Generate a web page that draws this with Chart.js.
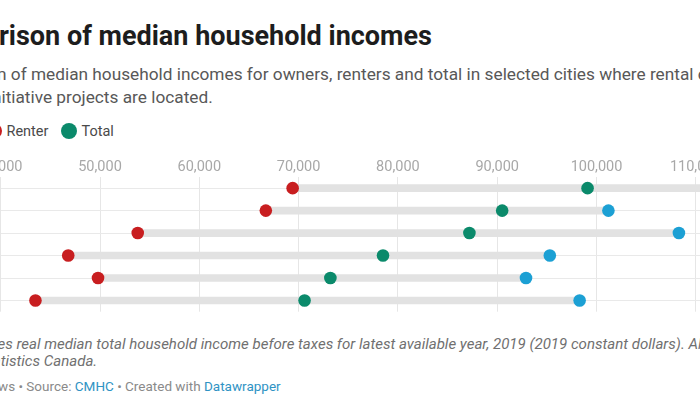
<!DOCTYPE html>
<html>
<head>
<meta charset="utf-8">
<script src="https://cdn.jsdelivr.net/npm/chart.js@4"></script>
<style>
  html, body { margin: 0; padding: 0; background: #fff; }
  body { width: 700px; height: 394px; overflow: hidden; position: relative; font-family: Roboto, "Noto Sans", sans-serif; }
  #wrap { position: absolute; left: -87px; top: 0; width: 1100px; height: 394px; }
  .title { position: absolute; left: 0; top: 20px; font-size: 27px; line-height: 32px; font-weight: 700; color: #1d1d1d; white-space: nowrap; }
  .sub { position: absolute; left: 0; top: 63px; font-size: 17.25px; line-height: 22.5px; color: #585858; white-space: nowrap; }
  .legend { position: absolute; left: -1px; top: 123px; height: 16px; display: flex; align-items: center; font-size: 14.5px; color: #4a4a4a; white-space: nowrap; }
  .legend .item { display: flex; align-items: center; margin-right: 13px; }
  .legend .dot { width: 16px; height: 16px; border-radius: 50%; margin-right: 4px; }
  #chartBox { position: absolute; left: -13px; top: 150px; width: 930px; height: 168px; }
  .note { position: absolute; left: -1px; top: 336px; font-size: 15.05px; line-height: 17px; font-style: italic; color: #707070; white-space: nowrap; }
  .foot { position: absolute; left: 0; top: 378px; font-size: 13.5px; line-height: 16px; color: #8a8a8a; white-space: nowrap; }
  .foot a { color: #2f93c4; text-decoration: none; }
</style>
</head>
<body>
<div id="wrap">
  <div class="title">Comparison of median household incomes</div>
  <div class="sub">Comparison of median household incomes for owners, renters and total in selected cities where rental construction<br>financing initiative projects are located.</div>
  <div class="legend" id="legend"></div>
  <div id="chartBox"><canvas id="c" width="930" height="168"></canvas></div>
  <div class="note">Notes: Includes real median total household income before taxes for latest available year, 2019 (2019 constant dollars). All<br>data from Statistics Canada.</div>
  <div class="foot">Chart: CTV News • Source: <a>CMHC</a> • Created with <a>Datawrapper</a></div>
</div>
<script>
// Rows (city names are outside the visible crop)
const categories = ["Row 1", "Row 2", "Row 3", "Row 4", "Row 5", "Row 6"];
const owner  = [114000, 101200, 108300, 95300, 92900, 98300];
const renter = [69400, 66700, 53800, 46800, 49800, 43500];
const total  = [99100, 90500, 87200, 78500, 73200, 70600];
const seriesNames = ["Owner", "Renter", "Total"];
const seriesColors = ["#1ca0d4", "#c81e20", "#0b8a6b"];
const tickStart = 40000, tickEnd = 120000, tickStep = 10000;

// legend
const lg = document.getElementById('legend');
seriesNames.forEach((n, i) => {
  const it = document.createElement('div'); it.className = 'item';
  const d = document.createElement('span'); d.className = 'dot'; d.style.background = seriesColors[i];
  const t = document.createElement('span'); t.textContent = n;
  it.appendChild(d); it.appendChild(t); lg.appendChild(it);
});

const ranges = categories.map((_, i) => {
  const v = [owner[i], renter[i], total[i]];
  return [Math.min(...v), Math.max(...v)];
});

const dotSet = (label, data, color) => ({
  type: 'line', label, data, indexAxis: 'y', showLine: false,
  pointRadius: 6.3, pointHoverRadius: 6.3, pointBackgroundColor: color,
  pointBorderWidth: 0, borderColor: color, backgroundColor: color, order: 1
});

new Chart(document.getElementById('c'), {
  type: 'bar',
  data: {
    labels: categories,
    datasets: [
      { type: 'bar', label: 'range', data: ranges, indexAxis: 'y', backgroundColor: '#e2e2e2',
        borderWidth: 0, borderSkipped: false, barThickness: 7, order: 10 },
      dotSet(seriesNames[0], owner, seriesColors[0]),
      dotSet(seriesNames[1], renter, seriesColors[1]),
      dotSet(seriesNames[2], total, seriesColors[2])
    ]
  },
  options: {
    indexAxis: 'y',
    responsive: false,
    animation: false,
    events: [],
    layout: { padding: { left: 100.7, right: 34.9, top: 6.9, bottom: 2 } },
    plugins: { legend: { display: false }, tooltip: { enabled: false } },
    scales: {
      x: {
        type: 'linear', position: 'top', min: tickStart, max: tickEnd,
        afterFit: s => { s.height = 20; },
        ticks: { stepSize: tickStep, padding: 1, color: '#a8a8a8',
          font: { family: 'Roboto', size: 14.5 },
          callback: v => v.toLocaleString('en-US') },
        grid: { color: '#e6e6e6', lineWidth: 1, drawTicks: false },
        border: { display: false }
      },
      y: {
        type: 'category', offset: true,
        ticks: { display: false },
        grid: { offset: false, color: '#e9e9e9', lineWidth: 1, drawTicks: false, tickLength: 0 },
        border: { display: false }
      }
    }
  }
});
</script>
</body>
</html>
